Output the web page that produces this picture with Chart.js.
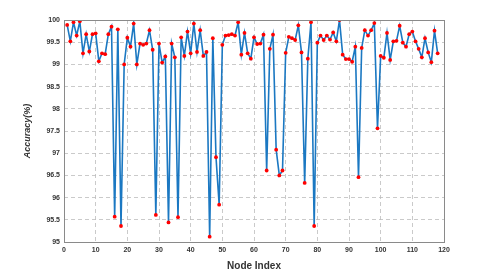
<!DOCTYPE html>
<html>
<head>
<meta charset="utf-8">
<script src="https://cdn.jsdelivr.net/npm/chart.js@4/dist/chart.umd.min.js"></script>
<style>
  html, body { margin: 0; padding: 0; background: #fff; }
  #wrap { width: 491px; height: 272px; }
</style>
</head>
<body>
<div id="wrap"><canvas id="accChart" width="491" height="272"></canvas></div>
<script>
// ========================
// DATA
// ========================
const nodeIndex = [
  1, 2, 3, 4, 5, 6, 7, 8, 9, 10, 11, 12, 13, 14, 15, 16, 17, 18, 19, 20,
  21, 22, 23, 24, 25, 26, 27, 28, 29, 30, 31, 32, 33, 34, 35, 36, 37, 38, 39, 40,
  41, 42, 43, 44, 45, 46, 47, 48, 49, 50, 51, 52, 53, 54, 55, 56, 57, 58, 59, 60,
  61, 62, 63, 64, 65, 66, 67, 68, 69, 70, 71, 72, 73, 74, 75, 76, 77, 78, 79, 80,
  81, 82, 83, 84, 85, 86, 87, 88, 89, 90, 91, 92, 93, 94, 95, 96, 97, 98, 99, 100,
  101, 102, 103, 104, 105, 106, 107, 108, 109, 110, 111, 112, 113, 114, 115, 116, 117, 118
];

const accuracy = [
  99.89, 99.52, 99.95, 99.65, 99.97, 99.25, 99.68, 99.29, 99.68, 99.70,
  99.07, 99.25, 99.23, 99.68, 99.85, 95.57, 99.79, 95.36, 99.00, 99.60,
  99.40, 99.92, 99.00, 99.47, 99.44, 99.47, 99.77, 99.33, 95.61, 99.47,
  99.04, 99.18, 95.44, 99.47, 99.16, 95.56, 99.61, 99.19, 99.74, 99.25,
  99.92, 99.28, 99.77, 99.19, 99.28, 95.12, 99.59, 96.91, 95.84, 99.44,
  99.65, 99.66, 99.68, 99.65, 99.95, 99.22, 99.71, 99.25, 99.13, 99.61,
  99.46, 99.47, 99.67, 96.61, 99.35, 99.67, 97.08, 96.50, 96.61, 99.26,
  99.62, 99.59, 99.55, 99.88, 99.27, 96.33, 99.13, 99.95, 95.36, 99.49,
  99.65, 99.55, 99.65, 99.56, 99.72, 99.52, 100.00, 99.22, 99.12, 99.12,
  99.06, 99.40, 96.46, 99.37, 99.77, 99.65, 99.77, 99.93, 97.56, 99.19,
  99.15, 99.71, 99.10, 99.52, 99.53, 99.87, 99.49, 99.40, 99.68, 99.74,
  99.52, 99.35, 99.16, 99.59, 99.27, 99.05, 99.76, 99.25
];

const xTicks = [0, 10, 20, 30, 40, 50, 60, 70, 80, 90, 100, 110, 120];
const yTicks = [95, 95.5, 96, 96.5, 97, 97.5, 98, 98.5, 99, 99.5, 100];

const xTitle = "Node Index";
const yTitle = "Accuracy(%)";

// ========================
// PLUGINS
// ========================
// box round the plot area, like the axes frame in the picture
const frameBox = {
  id: "frameBox",
  afterDraw(chart) {
    const a = chart.chartArea;
    const ctx = chart.ctx;
    ctx.save();
    ctx.strokeStyle = "#8a8a8a";
    ctx.lineWidth = 1;
    ctx.strokeRect(a.left + 0.5, a.top + 0.5, a.right - a.left, a.bottom - a.top);
    ctx.restore();
  }
};

// ========================
// CHART
// ========================
const points = nodeIndex.map((x, i) => ({ x, y: accuracy[i] }));
const tickFont = { family: "'Liberation Sans', Arial, sans-serif", size: 7, weight: "bold" };
const titleFont = { family: "'Liberation Sans', Arial, sans-serif", size: 10, weight: "bold" };

new Chart(document.getElementById("accChart").getContext("2d"), {
  type: "line",
  data: {
    datasets: [{
      label: yTitle,
      data: points,
      borderColor: "#1b78c2",
      borderWidth: 1.6,
      pointBackgroundColor: "#ff0000",
      pointBorderColor: "#ff0000",
      pointRadius: 1.9,
      pointBorderWidth: 0,
      tension: 0,
      fill: false
    }]
  },
  options: {
    responsive: false,
    animation: false,
    layout: { padding: { left: 22, right: 47, top: 20, bottom: 0 } },
    plugins: {
      legend: { display: false },
      tooltip: { enabled: false }
    },
    scales: {
      x: {
        type: "linear",
        min: 0,
        max: 120,
        afterBuildTicks: axis => { axis.ticks = xTicks.map(v => ({ value: v })); },
        afterFit: axis => { axis.height = 30; },
        grid: {
          color: "#bdbdbd",
          lineWidth: 0.8,
          drawTicks: false
        },
        border: { display: false, dash: [4, 3] },
        ticks: { color: "#333", font: tickFont, padding: 4, maxRotation: 0 },
        title: { display: true, text: xTitle, color: "#333", font: titleFont, padding: { top: 1, bottom: 0 } }
      },
      y: {
        min: 95,
        max: 100,
        afterBuildTicks: axis => { axis.ticks = yTicks.map(v => ({ value: v })); },
        afterFit: axis => { axis.width = 42; },
        grid: {
          color: "#bdbdbd",
          lineWidth: 0.8,
          drawTicks: false
        },
        border: { display: false, dash: [4, 3] },
        ticks: { color: "#333", font: tickFont, padding: 4, callback: v => String(v) },
        title: { display: true, text: yTitle, color: "#333", font: Object.assign({}, titleFont, { style: "italic", size: 9 }), padding: { top: 0, bottom: 0 } }
      }
    }
  },
  plugins: [frameBox]
});
</script>
</body>
</html>
